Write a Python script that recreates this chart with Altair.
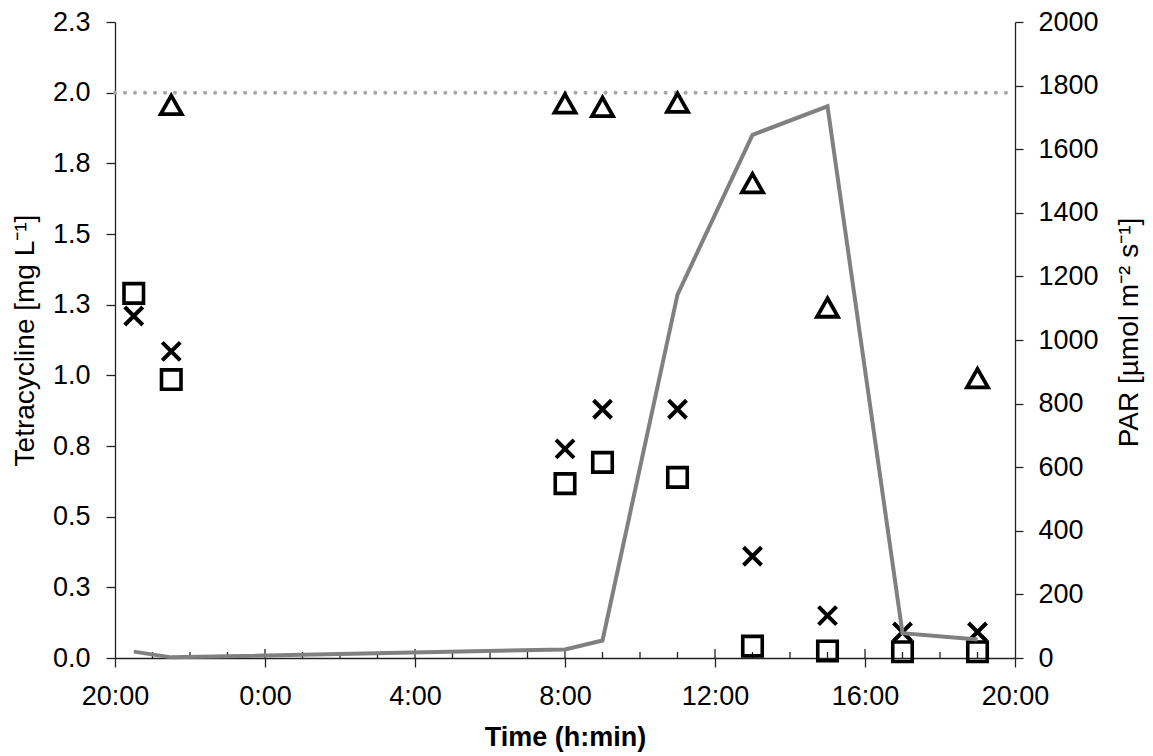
import altair as alt
import pandas as pd

# ---- data ----
times = ["20:30", "21:30", "08:00", "09:00", "11:00", "13:00", "15:00", "17:00", "19:00"]
triangle = [None, 1.957, 1.962, 1.950, 1.965, 1.68, 1.24, None, 0.99]
cross = [1.21, 1.085, 0.74, 0.88, 0.88, 0.36, 0.15, 0.092, 0.092]
square = [1.29, 0.985, 0.617, 0.692, 0.639, 0.042, 0.025, 0.022, 0.022]
par = [20, 2, 27, 55, 1143, 1645, 1735, 78, 58]

x_tick_values = [0, 4, 8, 12, 16, 20, 24]          # hours after 20:00
y_left_ticks = [0, 0.25, 0.5, 0.75, 1.0, 1.25, 1.5, 1.75, 2.0, 2.25]
y_right_ticks = [0, 200, 400, 600, 800, 1000, 1200, 1400, 1600, 1800, 2000]
reference_level = 2.0
minor_hours = list(range(1, 24))


def to_hours(t):
    h, m = map(int, t.split(":"))
    return (h - 20 if h >= 20 else h + 4) + m / 60.0


hours = [to_hours(t) for t in times]

def series_df(vals):
    return pd.DataFrame([{"h": h, "v": v} for h, v in zip(hours, vals) if v is not None])

tri_df = series_df(triangle)
cross_df = series_df(cross)
sq_df = series_df(square)
par_df = pd.DataFrame({"h": hours, "par": par})
ref_df = pd.DataFrame({"v": [reference_level]})
minor_df = pd.DataFrame({"h": [h for h in minor_hours if h % 4 != 0]})
major_df = pd.DataFrame({"h": [h for h in minor_hours if h % 4 == 0]})

W, H = 900, 636
FONT = "Liberation Sans"
AX = "#222222"
LS = 27

xscale = alt.Scale(domain=[0, 24], nice=False, zero=False)
ylscale = alt.Scale(domain=[0, 2.25], nice=False)
yrscale = alt.Scale(domain=[0, 2000], nice=False)

x_axis = alt.Axis(
    values=x_tick_values,
    labelExpr="((datum.value + 20) % 24) + ':00'",
    labelFlush=False,
    labelOverlap=False,
    title="Time (h:min)",
    titleFontWeight="bold",
    titleFontSize=27,
    titleX=W / 2,
    titleY=79,
    titleBaseline="middle",
    titleAlign="center",
    tickSize=9,
    labelPadding=16,
    grid=False,
)
yl_axis = alt.Axis(
    values=y_left_ticks,
    format=".1f",
    orient="left",
    labelFlush=False,
    labelOverlap=False,
    title="Tetracycline [mg L⁻¹]",
    titleFontWeight="normal",
    titleFontSize=28,
    titleAngle=270,
    titleX=-90,
    titleY=H / 2,
    titleBaseline="middle",
    titleAlign="center",
    tickSize=9,
    labelPadding=16,
    grid=False,
)
yr_axis = alt.Axis(
    values=y_right_ticks,
    format="d",
    orient="right",
    labelFlush=False,
    labelOverlap=False,
    title="PAR [µmol m⁻² s⁻¹]",
    titleFontWeight="normal",
    titleFontSize=28,
    titleAngle=270,
    titleX=114,
    titleY=H / 2 - 8,
    titleBaseline="middle",
    titleAlign="center",
    tickSize=8,
    labelPadding=15,
    grid=False,
)

X = alt.X("h:Q", scale=xscale, axis=x_axis)
YL = alt.Y("v:Q", scale=ylscale, axis=yl_axis)

ref_rule = alt.Chart(ref_df).mark_rule(
    color="#a6a6a6", strokeWidth=4, strokeCap="round", strokeDash=[0.01, 10]
).encode(y=YL, x=alt.value(0), x2=alt.value(W))

minor_ticks = alt.Chart(minor_df).mark_rule(color=AX, strokeWidth=1.3).encode(
    x=X, y=alt.value(H), y2=alt.value(H - 6)
)
major_ticks = alt.Chart(major_df).mark_rule(color=AX, strokeWidth=1.3).encode(
    x=X, y=alt.value(H), y2=alt.value(H - 9)
)

tri_pts = alt.Chart(tri_df).mark_point(
    shape="M0,-0.88L1,0.88L-1,0.88Z", size=441, filled=False,
    color="black", strokeWidth=3.8, opacity=1, strokeJoin="miter"
).encode(x=X, y=YL)

sq_pts = alt.Chart(sq_df).mark_point(
    shape="square", size=380, filled=False, color="black", strokeWidth=3.6, opacity=1
).encode(x=X, y=YL)

cross_pts = alt.Chart(cross_df).mark_point(
    shape="M-1,-1L1,1M-1,1L1,-1", size=324, filled=False,
    color="black", strokeWidth=4, opacity=1
).encode(x=X, y=YL)

left = alt.layer(ref_rule, minor_ticks, major_ticks, sq_pts, cross_pts, tri_pts)

line = alt.Chart(par_df).mark_line(color="#808080", strokeWidth=4, strokeJoin="miter").encode(
    x=X, y=alt.Y("par:Q", scale=yrscale, axis=yr_axis)
)

chart = (
    alt.layer(left, line)
    .resolve_scale(y="independent")
    .properties(
        width=W,
        height=H,
        autosize=alt.AutoSizeParams(type="none"),
        padding={"left": 107, "top": 14, "right": 130, "bottom": 98},
        background="white",
    )
    .configure_view(stroke=None)
    .configure_axis(
        labelFont=FONT,
        titleFont=FONT,
        labelFontSize=LS,
        labelColor="black",
        titleColor="black",
        domainColor=AX,
        tickColor=AX,
        domainWidth=1.3,
        tickWidth=1.3,
    )
)

chart.save("out.html", embed_options={"renderer": "svg", "actions": False})
